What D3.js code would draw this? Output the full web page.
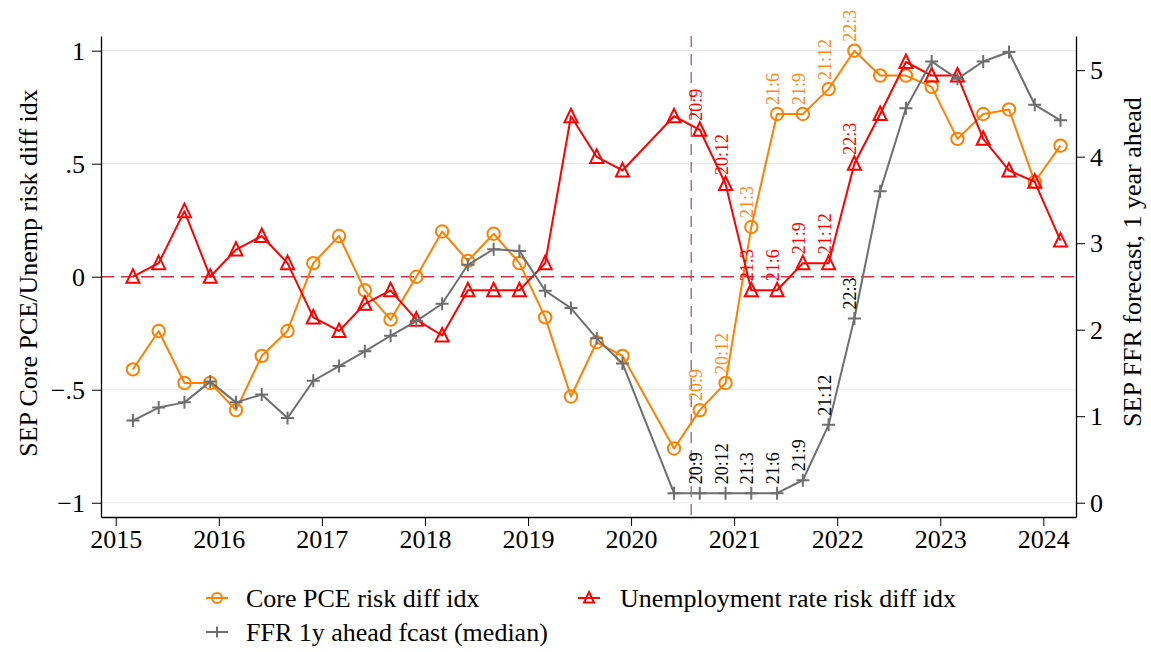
<!DOCTYPE html>
<html>
<head>
<meta charset="utf-8">
<script src="https://cdn.jsdelivr.net/npm/d3@7"></script>
<style>
  body { margin: 0; background: #fff; }
  svg { font-family: "Liberation Serif", "Times New Roman", serif; }
</style>
</head>
<body>
<div id="chart"></div>
<script>
// SEP quarters (March 2020 SEP was skipped)
var dates = [
  "2015-03","2015-06","2015-09","2015-12",
  "2016-03","2016-06","2016-09","2016-12",
  "2017-03","2017-06","2017-09","2017-12",
  "2018-03","2018-06","2018-09","2018-12",
  "2019-03","2019-06","2019-09","2019-12",
  "2020-06","2020-09","2020-12",
  "2021-03","2021-06","2021-09","2021-12",
  "2022-03","2022-06","2022-09","2022-12",
  "2023-03","2023-06","2023-09","2023-12",
  "2024-03"
];
var corePCE = [
  -0.41, -0.24, -0.47, -0.47,
  -0.59, -0.35, -0.24, 0.06,
  0.18, -0.06, -0.19, 0.00,
  0.20, 0.07, 0.19, 0.06,
  -0.18, -0.53, -0.29, -0.35,
  -0.76, -0.59, -0.47,
  0.22, 0.72, 0.72, 0.83,
  1.00, 0.89, 0.89, 0.84,
  0.61, 0.72, 0.74, 0.42,
  0.58
];
var unemp = [
  0.00, 0.06, 0.29, 0.00,
  0.12, 0.18, 0.06, -0.18,
  -0.24, -0.12, -0.06, -0.19,
  -0.26, -0.06, -0.06, -0.06,
  0.06, 0.71, 0.53, 0.47,
  0.71, 0.65, 0.41,
  -0.06, -0.06, 0.06, 0.06,
  0.50, 0.72, 0.95, 0.89,
  0.89, 0.61, 0.47, 0.42,
  0.16
];
var ffr = [
  0.95, 1.10, 1.16, 1.40,
  1.16, 1.25, 0.98, 1.41,
  1.58, 1.75, 1.93, 2.10,
  2.30, 2.75, 2.93, 2.91,
  2.45, 2.25, 1.90, 1.61,
  0.11, 0.11, 0.11,
  0.11, 0.11, 0.26, 0.90,
  2.13, 3.60, 4.56, 5.10,
  4.90, 5.10, 5.21, 4.60,
  4.42
];
// dates that get a text label, and the label text
var labelDates = ["2020-09","2020-12","2021-03","2021-06","2021-09","2021-12","2022-03"];
var labelText = ["20:9","20:12","21:3","21:6","21:9","21:12","22:3"];
var yearTicks = [2015,2016,2017,2018,2019,2020,2021,2022,2023,2024];
var leftTicks = [-1, -0.5, 0, 0.5, 1];
var rightTicks = [0, 1, 2, 3, 4, 5];
var markerDate = "2020-08";   // vertical reference line

var W = 1151, H = 652;
var pLeft = 101, pRight = 1076, pTop = 36, pBottom = 517;

function toYear(s) {
  var p = s.split("-");
  return +p[0] + (+p[1] - 1) / 12;
}

var rows = dates.map(function (d, i) {
  return { t: toYear(d), date: d, pce: corePCE[i], un: unemp[i], ffr: ffr[i] };
});

var x = d3.scaleLinear().domain([2014.857, 2024.317]).range([pLeft, pRight]);
var yL = d3.scaleLinear().domain([-1.063, 1.065]).range([pBottom, pTop]);
var yR = d3.scaleLinear().domain([-0.165, 5.395]).range([pBottom, pTop]);

var svg = d3.select("#chart").append("svg")
  .attr("width", W)
  .attr("height", H);

svg.append("rect").attr("width", W).attr("height", H).attr("fill", "#fff");

// gridlines
svg.append("g").selectAll("line")
  .data(leftTicks)
  .enter().append("line")
  .attr("x1", pLeft).attr("x2", pRight)
  .attr("y1", function (d) { return yL(d); })
  .attr("y2", function (d) { return yL(d); })
  .attr("stroke", "#e8e8e8")
  .attr("stroke-width", 1.2);

// reference lines
svg.append("line")
  .attr("x1", pLeft).attr("x2", pRight)
  .attr("y1", yL(0)).attr("y2", yL(0))
  .attr("stroke", "#c8324a")
  .attr("stroke-width", 1.5)
  .attr("stroke-dasharray", "13,7");
svg.append("line")
  .attr("x1", x(toYear(markerDate))).attr("x2", x(toYear(markerDate)))
  .attr("y1", pTop).attr("y2", pBottom)
  .attr("stroke", "#a8485a")
  .attr("stroke-width", 1.2)
  .attr("stroke-dasharray", "11,7");

// axes
function fmtLeft(d) {
  if (d === 0) return "0";
  var s = String(Math.abs(d)).replace(/^0/, "");
  return (d < 0 ? "\u2212" : "") + s;
}

var gx = svg.append("g")
  .attr("transform", "translate(0," + pBottom + ")")
  .call(d3.axisBottom(x).tickValues(yearTicks).tickFormat(d3.format("d"))
    .tickSize(9).tickSizeOuter(0).tickPadding(3.5));
var gl = svg.append("g")
  .attr("transform", "translate(" + pLeft + ",0)")
  .call(d3.axisLeft(yL).tickValues(leftTicks).tickFormat(fmtLeft)
    .tickSize(9).tickSizeOuter(0).tickPadding(7));
var gr = svg.append("g")
  .attr("transform", "translate(" + pRight + ",0)")
  .call(d3.axisRight(yR).tickValues(rightTicks).tickFormat(d3.format("d"))
    .tickSize(9).tickSizeOuter(0).tickPadding(5));

[gx, gl, gr].forEach(function (g) {
  g.selectAll("path.domain").attr("stroke", "#000").attr("stroke-width", 1.3);
  g.selectAll(".tick line").attr("stroke", "#000").attr("stroke-width", 1);
  g.selectAll("text")
    .attr("fill", "#000")
    .style("font-family", "'Liberation Serif', 'Times New Roman', serif")
    .style("font-size", "26px");
});

// axis titles
svg.append("text")
  .attr("transform", "translate(28,273) rotate(-90)")
  .attr("text-anchor", "middle")
  .attr("dominant-baseline", "central")
  .style("font-size", "26px")
  .text("SEP Core PCE/Unemp risk diff idx");
svg.append("text")
  .attr("transform", "translate(1132,262) rotate(-90)")
  .attr("text-anchor", "middle")
  .attr("dominant-baseline", "central")
  .style("font-size", "26px")
  .text("SEP FFR forecast, 1 year ahead");

// marker shapes
function triPath(s) {
  var h = s / 2;
  return "M0," + (-h - 1) + "L" + h + "," + (h - 0.5) + "L" + (-h) + "," + (h - 0.5) + "Z";
}
function plusPath(s) {
  var h = s / 2;
  return "M" + (-h) + ",0H" + h + "M0," + (-h) + "V" + h;
}

var series = [
  { key: "pce", y: yL, color: "#ff8000", labelColor: "#ff8a1a", shape: "circle" },
  { key: "un", y: yL, color: "#ff0000", labelColor: "#ff0000", shape: "tri" },
  { key: "ffr", y: yR, color: "#6e6e6e", labelColor: "#000", shape: "plus" }
];

series.forEach(function (s) {
  var line = d3.line()
    .x(function (d) { return x(d.t); })
    .y(function (d) { return s.y(d[s.key]); });

  svg.append("path")
    .datum(rows)
    .attr("d", line)
    .attr("fill", "none")
    .attr("stroke", s.color)
    .attr("stroke-width", 2)
    .attr("stroke-linejoin", "round");

  var pts = svg.append("g").selectAll(".pt")
    .data(rows)
    .enter().append("g")
    .attr("transform", function (d) {
      return "translate(" + x(d.t) + "," + s.y(d[s.key]) + ")";
    });
  if (s.shape === "circle") {
    pts.append("circle").attr("r", 6.2)
      .attr("fill", "none").attr("stroke", s.color).attr("stroke-width", 2);
  } else if (s.shape === "tri") {
    pts.append("path").attr("d", triPath(13))
      .attr("fill", "none").attr("stroke", s.color).attr("stroke-width", 2);
  } else {
    pts.append("path").attr("d", plusPath(13))
      .attr("fill", "none").attr("stroke", s.color).attr("stroke-width", 2);
  }

  svg.append("g").selectAll("text")
    .data(rows.filter(function (d) { return labelDates.indexOf(d.date) >= 0; }))
    .enter().append("text")
    .attr("transform", function (d) {
      return "translate(" + (x(d.t) + 2) + "," + (s.y(d[s.key]) - 9) + ") rotate(-90)";
    })
    .attr("fill", s.labelColor)
    .style("font-size", "18px")
    .text(function (d) { return labelText[labelDates.indexOf(d.date)]; });
});

// legend
var legend = [
  { label: "Core PCE risk diff idx", color: "#ff8000", shape: "circle", cx: 217, cy: 598, tx: 246 },
  { label: "Unemployment rate risk diff idx", color: "#ff0000", shape: "tri", cx: 589, cy: 598, tx: 620 },
  { label: "FFR 1y ahead fcast (median)", color: "#6e6e6e", shape: "plus", cx: 217, cy: 632, tx: 246 }
];
var lg = svg.append("g").selectAll("g")
  .data(legend)
  .enter().append("g");
lg.append("line")
  .attr("x1", function (d) { return d.cx - 11; })
  .attr("x2", function (d) { return d.cx + 11; })
  .attr("y1", function (d) { return d.cy; })
  .attr("y2", function (d) { return d.cy; })
  .attr("stroke", function (d) { return d.color; })
  .attr("stroke-width", 2);
lg.each(function (d) {
  var g = d3.select(this);
  var m;
  if (d.shape === "circle") {
    m = g.append("circle").attr("r", 5);
  } else if (d.shape === "tri") {
    m = g.append("path").attr("d", triPath(10));
  } else {
    m = g.append("path").attr("d", plusPath(11));
  }
  m.attr("transform", "translate(" + d.cx + "," + d.cy + ")")
    .attr("fill", "none").attr("stroke", d.color).attr("stroke-width", 2);
});
lg.append("text")
  .attr("x", function (d) { return d.tx; })
  .attr("y", function (d) { return d.cy + 8.5; })
  .style("font-size", "26px")
  .text(function (d) { return d.label; });
</script>
</body>
</html>
